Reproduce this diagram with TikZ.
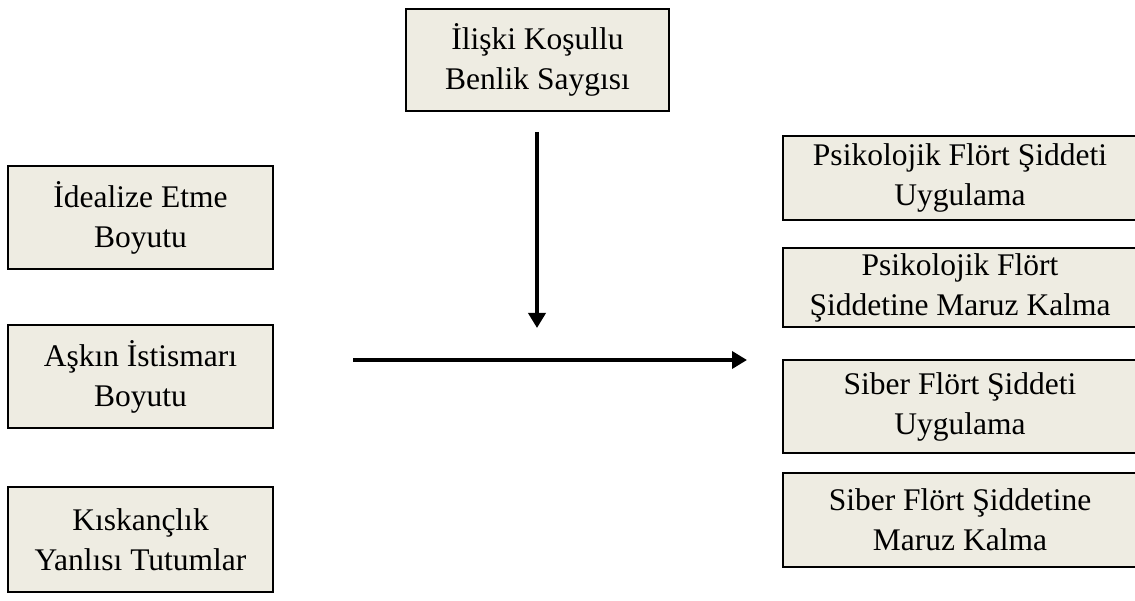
\documentclass[tikz,border=0pt]{standalone}
\usepackage{fontspec}
\setmainfont{Liberation Serif}
\usetikzlibrary{arrows.meta}
\definecolor{boxfill}{RGB}{238,236,226}
\tikzset{
	varbox/.style={draw=black,line width=1.6pt,fill=boxfill,align=center,inner sep=0pt,
		font=\fontsize{31.5}{40}\selectfont},
	bigarrow/.style={line width=3.6pt,-{Triangle[length=15pt,width=17pt]}}
}
\begin{document}
\begin{tikzpicture}[x=1pt,y=-1pt]
	
	\useasboundingbox (0,0) rectangle (1135,601);
	\clip (0,0) rectangle (1135,601);
	
	% moderator
	\node[varbox,minimum width=263pt,minimum height=102pt] (iksb) at (537.5,60) {İlişki Koşullu\\Benlik Saygısı};
	
	% independent variables
	\node[varbox,minimum width=265pt,minimum height=103pt] (ideal) at (140.5,217.5) {İdealize Etme\\Boyutu};
	\node[varbox,minimum width=265pt,minimum height=103pt] (askin) at (140.5,376.5) {Aşkın İstismarı\\Boyutu};
	\node[varbox,minimum width=265pt,minimum height=105pt] (kiskanc) at (140.5,539.5) {Kıskançlık\\Yanlısı Tutumlar};
	
	% dependent variables
	\node[varbox,minimum width=354pt,minimum height=84pt] (psikuyg) at (960,178) {Psikolojik Flört Şiddeti\\Uygulama};
	\node[varbox,minimum width=354pt,minimum height=79pt] (psikmar) at (960,287.5) {Psikolojik Flört\\Şiddetine Maruz Kalma};
	\node[varbox,minimum width=354pt,minimum height=93pt] (sibuyg) at (960,406.5) {Siber Flört Şiddeti\\Uygulama};
	\node[varbox,minimum width=354pt,minimum height=94pt] (sibmar) at (960,520) {Siber Flört Şiddetine\\Maruz Kalma};
	
	\coordinate (modtop) at (537,132);
	\coordinate (modend) at (537,328);
	\coordinate (maintail) at (353,360);
	\coordinate (mainhead) at (747,360);
	
	\draw[bigarrow] (modtop)--(modend);
	\draw[bigarrow] (maintail)--(mainhead);
	
\end{tikzpicture}
\end{document}
